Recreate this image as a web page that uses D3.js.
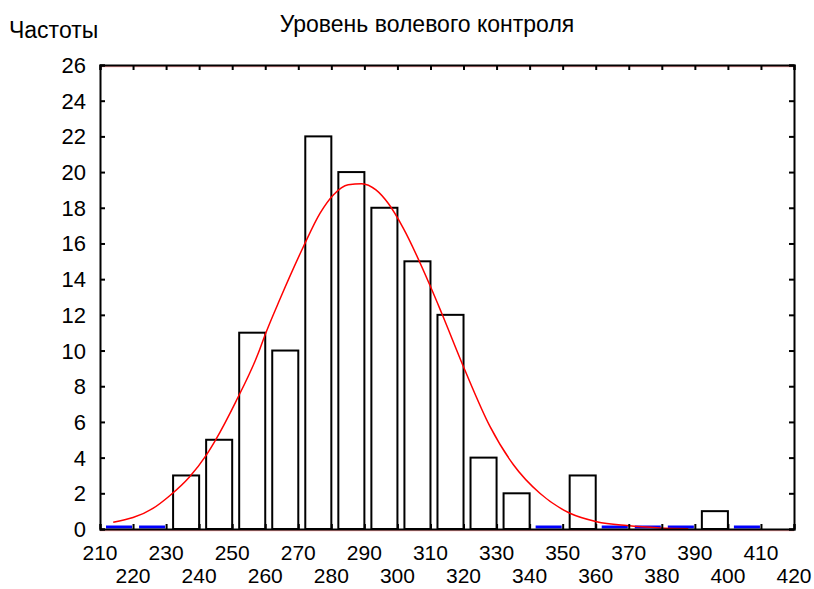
<!DOCTYPE html>
<html>
<head>
<meta charset="utf-8">
<script src="https://cdn.jsdelivr.net/npm/d3@7"></script>
<style>
  body { margin: 0; background: #fff; }
  text { font-family: "Liberation Sans", Arial, sans-serif; fill: #000; }
</style>
</head>
<body>
<div id="chart"></div>
<script>
// histogram bins (lower edge) and counts
var binStarts = [210, 220, 230, 240, 250, 260, 270, 280, 290, 300, 310, 320, 330, 340, 350, 360, 370, 380, 390, 400];
var counts    = [0, 0, 3, 5, 11, 10, 22, 20, 18, 15, 12, 4, 2, 0, 3, 0, 0, 0, 1, 0];
var binWidth = 10;

// fitted curve
var curveX = [214, 226, 231, 237, 242, 245, 251, 258, 260, 264.5, 271.5, 276.6, 280.6, 285.1, 289.2, 293.5, 297.2, 301.8, 309.8, 313.4, 320.4, 328, 335.1, 343.1, 352.2, 360.3, 369.4, 379.4, 388];
var curveY = [0.38, 1.15, 1.85, 2.9, 4.1, 5.0, 7.1, 9.9, 10.9, 12.9, 15.8, 17.7, 18.72, 19.29, 19.35, 19.0, 18.25, 16.85, 13.67, 12.09, 8.91, 5.75, 3.6, 2.0, 0.88, 0.41, 0.19, 0.06, 0.02];

var xTicks = [210, 220, 230, 240, 250, 260, 270, 280, 290, 300, 310, 320, 330, 340, 350, 360, 370, 380, 390, 400, 410, 420];
var yTicks = [0, 2, 4, 6, 8, 10, 12, 14, 16, 18, 20, 22, 24, 26];

var title = "Уровень волевого контроля";
var yLabel = "Частоты";

var svgWidth = 814, svgHeight = 589;
var margin = { top: 65, right: 20, bottom: 60, left: 100 };
var width = svgWidth - margin.left - margin.right;
var height = svgHeight - margin.top - margin.bottom;

var svg = d3.select("#chart").append("svg")
  .attr("width", svgWidth)
  .attr("height", svgHeight);

var g = svg.append("g")
  .attr("transform", `translate(${margin.left}, ${margin.top})`);

var x = d3.scaleLinear().domain([210, 420]).range([0, width]);
var y = d3.scaleLinear().domain([0, 26]).range([height, 0]);

// bars
var bins = binStarts.map((b, i) => ({ lo: b, hi: b + binWidth, n: counts[i] }));

g.selectAll("rect.bar")
  .data(bins.filter(d => d.n > 0))
  .enter().append("rect")
  .attr("class", "bar")
  .attr("x", d => x(d.lo) + 7)
  .attr("y", d => y(d.n))
  .attr("width", d => x(d.hi) - x(d.lo) - 7)
  .attr("height", d => y(0) - y(d.n))
  .attr("fill", "#fff")
  .attr("stroke", "#000")
  .attr("stroke-width", 2);

// empty bins drawn as blue dashes
g.selectAll("line.zero")
  .data(bins.filter(d => d.n === 0))
  .enter().append("line")
  .attr("class", "zero")
  .attr("x1", d => x(d.lo) + 6)
  .attr("x2", d => x(d.hi) - 1)
  .attr("y1", y(0) - 2)
  .attr("y2", y(0) - 2)
  .attr("stroke", "#0000ff")
  .attr("stroke-width", 3);

// curve
var pts = curveX.map((v, i) => [v, curveY[i]]);
g.append("path")
  .datum(pts)
  .attr("fill", "none")
  .attr("stroke", "#ff0000")
  .attr("stroke-width", 1.5)
  .attr("d", d3.line().curve(d3.curveMonotoneX).x(d => x(d[0])).y(d => y(d[1])));

// faint red lines on top and bottom edges
[0, height].forEach(function(yy) {
  g.append("line")
    .attr("x1", 0).attr("x2", width)
    .attr("y1", yy + 1.5).attr("y2", yy + 1.5)
    .attr("stroke", "#ff0000").attr("stroke-opacity", 0.35).attr("stroke-width", 1.5);
});

// axes, ticks pointing inward
var fmt = d3.format("d");
var bottomAxis = d3.axisBottom(x).tickValues(xTicks).tickSize(-5).tickFormat("");
var topAxis = d3.axisTop(x).tickValues(xTicks).tickSize(-5).tickFormat("");
var leftAxis = d3.axisLeft(y).tickValues(yTicks).tickSize(-5).tickFormat("");
var rightAxis = d3.axisRight(y).tickValues(yTicks).tickSize(-5).tickFormat("");

function styleAxis(sel) {
  sel.selectAll("path").attr("stroke", "#000").attr("stroke-width", 2);
  sel.selectAll("line").attr("stroke", "#000").attr("stroke-width", 2);
}

g.append("g").attr("transform", `translate(0, ${height})`).call(bottomAxis).call(styleAxis);
g.append("g").call(topAxis).call(styleAxis);
g.append("g").call(leftAxis).call(styleAxis);
g.append("g").attr("transform", `translate(${width}, 0)`).call(rightAxis).call(styleAxis);

// y tick labels
g.selectAll("text.ylab")
  .data(yTicks)
  .enter().append("text")
  .attr("class", "ylab")
  .attr("x", -14)
  .attr("y", d => y(d) + 8)
  .attr("text-anchor", "end")
  .attr("font-size", 22)
  .text(fmt);

// x tick labels, two staggered rows
g.selectAll("text.xlab")
  .data(xTicks)
  .enter().append("text")
  .attr("class", "xlab")
  .attr("x", d => x(d))
  .attr("y", (d, i) => height + (i % 2 === 0 ? 31 : 54))
  .attr("text-anchor", "middle")
  .attr("font-size", 21)
  .text(fmt);

// titles
svg.append("text")
  .attr("x", 427)
  .attr("y", 32)
  .attr("text-anchor", "middle")
  .attr("font-size", 23)
  .text(title);

svg.append("text")
  .attr("x", 9)
  .attr("y", 38)
  .attr("font-size", 23)
  .text(yLabel);
</script>
</body>
</html>
